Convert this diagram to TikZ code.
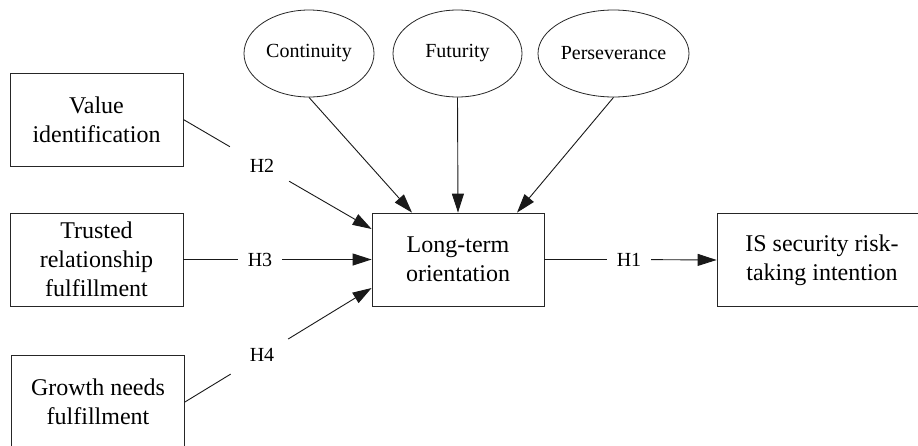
\documentclass[tikz,border=0pt]{standalone}
\usepackage{fontspec}
\setmainfont{Liberation Serif}
\usetikzlibrary{shapes.geometric,arrows.meta}
\begin{document}
\begin{tikzpicture}[x=1pt,y=-1pt,
  boxnode/.style={draw=black!85,line width=0.8pt,rectangle,minimum width=173pt,minimum height=93pt,inner sep=0pt,align=center,font=\fontsize{24}{29}\selectfont},
  ellnode/.style={draw=black!85,line width=0.8pt,ellipse,minimum height=87pt,inner sep=0pt,font=\fontsize{20}{24}\selectfont},
  hlab/.style={inner sep=0pt,minimum width=44pt,minimum height=18pt,font=\fontsize{20}{24}\selectfont},
  conn/.style={line width=0.9pt,black!90},
  arr/.style={conn,-{Triangle[length=19pt,width=12pt]}}
]
\useasboundingbox (0,0) rectangle (918,445);
\clip (0,0) rectangle (918,445);
\fill[white] (0,0) rectangle (918,445);
% boxes
\node[boxnode] (val) at (96.5,119.5) {Value\\identification};
\node[boxnode] (tru) at (96.5,259.5) {Trusted\\relationship\\fulfillment};
\node[boxnode] (gro) at (98,402) {Growth needs\\fulfillment};
\node[boxnode,minimum width=172pt] (lto) at (458,259.5) {Long-term\\orientation};
\node[boxnode,minimum width=210pt] (isr) at (822,260) {IS security risk-\\taking intention};
% ellipses
\node[ellnode,minimum width=130pt] (con) at (309,53.5) {Continuity};
\node[ellnode,minimum width=129pt] (fut) at (457.5,53.5) {Futurity};
\node[ellnode,minimum width=151pt] (per) at (613.5,53.5) {Perseverance};
% labels
\node[hlab] (h2) at (262,165.5) {H2};
\node[hlab] (h3) at (260,259.5) {H3};
\node[hlab] (h4) at (262,355) {H4};
\node[hlab] (h1) at (629,259.5) {H1};
% target points on LTO
\coordinate (t2) at ([yshift=30.5pt]lto.west);
\coordinate (t4) at ([yshift=-28.5pt]lto.west);
\coordinate (tc) at ([xshift=-46pt]lto.north);
\coordinate (tp) at ([xshift=59pt]lto.north);
% connectors
\draw[conn,shorten >=19pt] (val.east) -- (h2);
\draw[arr,shorten <=13pt] (h2) -- (t2);
\draw[conn] (tru.east) -- (h3);
\draw[arr] (h3) -- (lto.west);
\draw[conn,shorten >=19pt] (gro.east) -- (h4);
\draw[arr,shorten <=13pt] (h4) -- (t4);
\draw[conn] (lto.east) -- (h1);
\draw[arr] (h1) -- (isr.west);
\draw[arr] (con.south) -- (tc);
\draw[arr] (fut.south) -- (lto.north);
\draw[arr] (per.south) -- (tp);
\end{tikzpicture}
\end{document}
